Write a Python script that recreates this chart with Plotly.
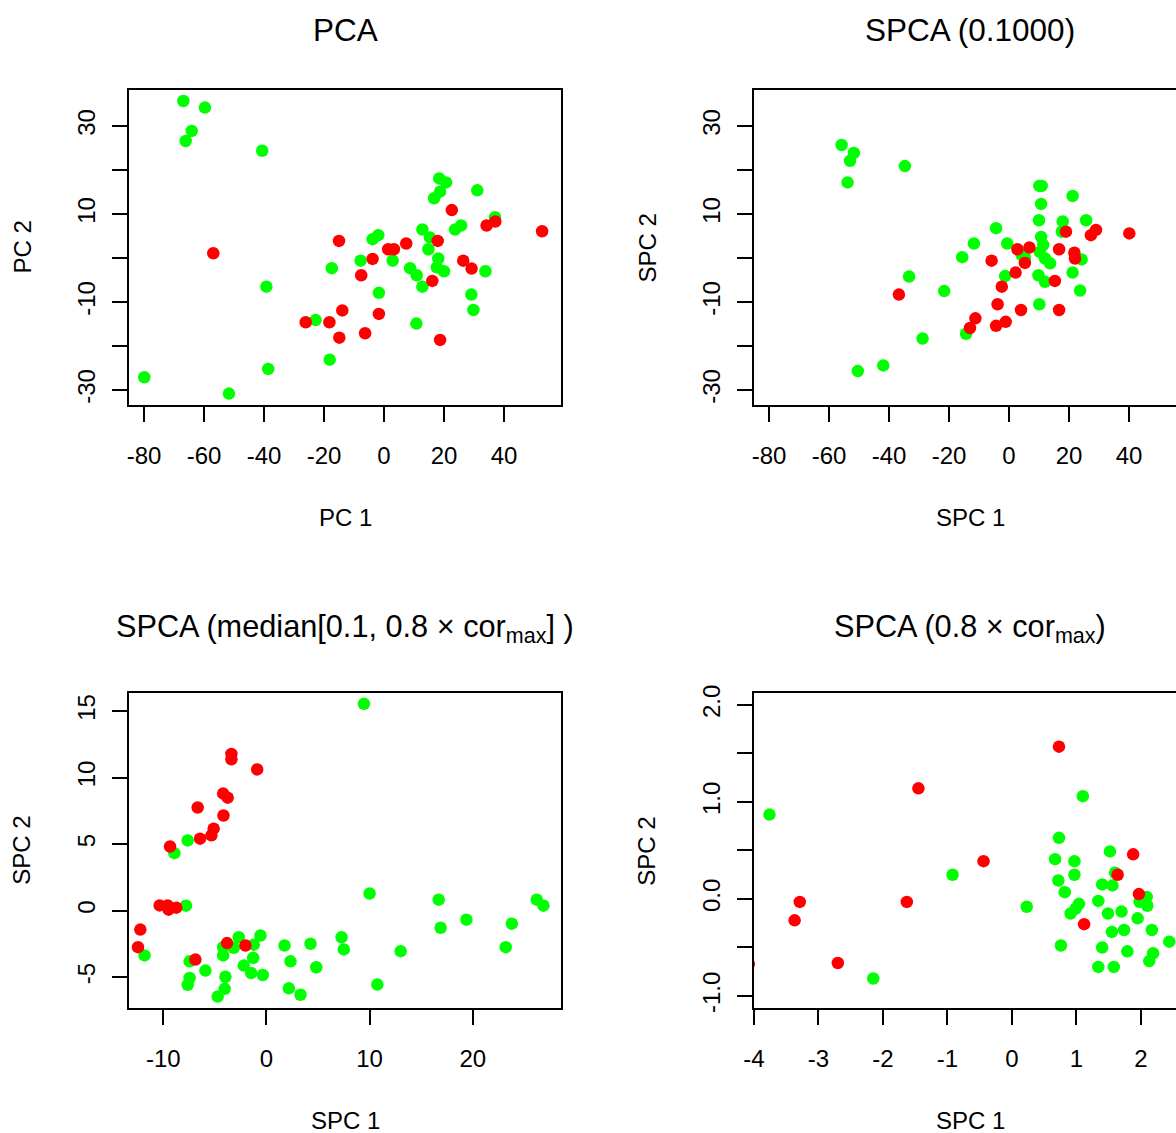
import plotly.graph_objects as go

# ---------------- data ----------------
# Panel 1: PCA
pca_green_x = [-66.9, -59.7, -64.1, -66.1, -40.6, -17.4, -39.2, -22.8, -18.1, -38.6, -79.9, -51.7,
               18.4, 20.7, 18.7, 16.7, 31.1, 37.0, 23.7, 25.7, 12.8, 15.3, 14.8, -1.9, -3.8, -7.8,
               2.9, 8.7, 10.9, 18.1, 17.6, 20.0, 33.8, 12.8, -1.7, 29.1, 29.8, 10.8]
pca_green_y = [35.7, 34.2, 28.9, 26.6, 24.4, -2.3, -6.5, -14.1, -23.1, -25.2, -27.1, -30.8,
               18.1, 17.2, 15.1, 13.6, 15.4, 9.3, 6.5, 7.4, 6.5, 4.7, 2.0, 5.2, 4.3, -0.6,
               -0.6, -2.3, -3.9, -0.1, -2.1, -3.0, -3.0, -6.5, -7.9, -8.3, -11.8, -14.9]
pca_red_x = [-56.9, -15.0, -13.9, -26.1, -18.2, -14.9, 22.6, 34.2, 37.1, 52.7, 17.9, 1.4, 3.3,
             7.4, -3.8, -7.6, 26.4, 29.2, 16.1, -1.7, -6.3, 18.7]
pca_red_y = [1.1, 3.9, -11.9, -14.6, -14.6, -18.1, 10.9, 7.4, 8.3, 6.1, 3.9, 2.0, 2.0,
             3.3, -0.2, -3.9, -0.6, -2.4, -5.2, -12.7, -17.1, -18.6]

# Panel 2: SPCA (0.1000)
sp1_green_x = [-55.8, -51.7, -53.0, -34.7, -53.8, -11.7, -15.6, -33.3, -21.6, -14.3, -28.8, -41.9,
               -50.4, 10.1, 10.9, 21.2, 10.7, 10.0, 17.9, 25.7, -4.3, 17.6, -0.6, 10.7, 11.4,
               24.2, 4.2, 5.3, 10.3, 12.0, 13.7, -1.3, 9.8, 12.0, 21.2, 23.7, 10.1]
sp1_green_y = [25.7, 23.9, 22.1, 20.9, 17.2, 3.3, 0.2, -4.2, -7.5, -17.2, -18.3, -24.4,
               -25.7, 16.4, 16.4, 14.1, 12.3, 8.6, 8.3, 8.6, 6.8, 6.0, 3.3, 4.8, 3.0,
               -0.3, 0.7, 0.2, 1.4, -0.1, -1.2, -4.1, -3.9, -5.4, -3.3, -7.4, -10.5]
sp1_red_x = [-36.7, -11.2, -13.0, 19.0, 29.0, 27.3, 40.1, 2.8, 6.8, 16.7, 21.8, 22.0, -5.8,
             5.3, 2.2, 15.3, -2.4, -3.8, 4.0, 16.7, -1.1, -4.3]
sp1_red_y = [-8.3, -13.7, -15.9, 6.0, 6.4, 5.2, 5.6, 2.0, 2.4, 2.0, 1.2, -0.1, -0.6,
             -1.1, -3.3, -5.2, -6.5, -10.5, -11.8, -11.8, -14.5, -15.4]

# Panel 3: SPCA (median[...])
sp2_green_x = [-7.64, -8.93, -7.80, -11.82, -7.45, -5.92, -7.45, -7.64, -4.73, -4.05, -3.98, -4.20,
               -4.20, -2.69, -3.17, -1.23, -0.58, -1.29, -2.20, -1.49, -0.36, 9.45, 10.0, 16.70,
               26.21, 26.86, 19.39, 16.89, 23.79, 23.20, 1.75, 4.27, 7.28, 7.50, 13.01, 2.33,
               4.83, 10.75, 2.17, 3.30]
sp2_green_y = [5.28, 4.32, 0.38, -3.36, -3.80, -4.50, -5.05, -5.57, -6.45, -5.87, -4.96, -3.36,
               -2.74, -1.99, -2.78, -2.55, -1.86, -3.54, -4.12, -4.68, -4.83, 15.54, 1.29, 0.83,
               0.83, 0.38, -0.67, -1.28, -0.97, -2.74, -2.61, -2.48, -1.99, -2.91, -3.04, -3.80,
               -4.25, -5.55, -5.83, -6.31]
sp2_red_x = [-3.40, -3.40, -0.90, -4.20, -3.76, -6.67, -4.17, -5.12, -5.34, -6.44, -9.35, -10.36,
             -9.58, -9.49, -8.74, -12.23, -12.46, -6.89, -3.82, -2.04]
sp2_red_y = [11.77, 11.37, 10.61, 8.80, 8.49, 7.75, 7.15, 6.16, 5.66, 5.41, 4.82, 0.40,
             0.40, 0.08, 0.23, -1.42, -2.74, -3.67, -2.43, -2.61]

# Panel 4: SPCA (0.8 x cor_max)
sp3_green_x = [-3.76, -0.92, -2.15, 1.10, 0.73, 1.52, 0.67, 0.97, 0.97, 0.72, 1.60, 1.40, 1.56,
               0.82, 2.09, 1.98, 2.10, 0.23, 1.04, 0.99, 0.91, 1.34, 1.49, 1.70, 1.95, 1.55,
               1.74, 2.17, 2.44, 0.76, 1.40, 1.79, 2.19, 2.13, 1.34, 1.58]
sp3_green_y = [0.87, 0.25, -0.82, 1.06, 0.63, 0.49, 0.41, 0.39, 0.25, 0.19, 0.27, 0.15, 0.14,
               0.07, 0.02, -0.03, -0.07, -0.08, -0.05, -0.10, -0.15, -0.02, -0.15, -0.13, -0.20, -0.34,
               -0.32, -0.32, -0.44, -0.48, -0.50, -0.54, -0.56, -0.64, -0.70, -0.70]
sp3_red_x = [-1.45, -0.44, -3.29, -3.37, -1.63, -2.70, -4.08, 0.73, 1.88, 1.64, 1.97, 1.12]
sp3_red_y = [1.14, 0.39, -0.03, -0.22, -0.03, -0.66, -0.67, 1.57, 0.46, 0.25, 0.05, -0.26]

titles = ["PCA", "SPCA (0.1000)",
          "SPCA (median[0.1, 0.8 \u00d7 cor<sub>max</sub>] )",
          "SPCA (0.8 \u00d7 cor<sub>max</sub>)"]
xlabels = ["PC 1", "SPC 1", "SPC 1", "SPC 1"]
ylabels = ["PC 2", "SPC 2", "SPC 2", "SPC 2"]

top_xticks = [-80, -60, -40, -20, 0, 20, 40]
top_yticks = [-30, -10, 10, 30]            # labelled ticks
top_yminor = [-20, 0, 20]                  # unlabelled ticks
bl_xticks = [-10, 0, 10, 20]
bl_yticks = [-5, 0, 5, 10, 15]
br_xticks = [-4, -3, -2, -1, 0, 1, 2]
br_yticks = [-1.0, 0.0, 1.0, 2.0]
br_yminor = [-0.5, 0.5, 1.5]

# ---------------- layout geometry ----------------
W, H = 1250, 1133
FONT = "Liberation Sans, Arial, sans-serif"
GREEN = "#00FF00"
RED = "#FF0000"


def px(x):
    return x / W


def py(y):
    return 1 - y / H


col_x = [(129, 561), (754, 1186)]
row_y = [(90, 405), (693.3, 1008.3)]

fig = go.Figure()

panels = [
    (pca_green_x, pca_green_y, pca_red_x, pca_red_y),
    (sp1_green_x, sp1_green_y, sp1_red_x, sp1_red_y),
    (sp2_green_x, sp2_green_y, sp2_red_x, sp2_red_y),
    (sp3_green_x, sp3_green_y, sp3_red_x, sp3_red_y),
]

for i, (gx, gy, rx, ry) in enumerate(panels):
    n = "" if i == 0 else str(i + 1)
    for xs, ys, c in [(gx, gy, GREEN), (rx, ry, RED)]:
        fig.add_trace(go.Scatter(x=xs, y=ys, mode="markers", xaxis="x" + n, yaxis="y" + n,
                                 marker=dict(color=c, size=12.5, line=dict(width=0)),
                                 showlegend=False, hoverinfo="skip"))

axis_common = dict(showgrid=False, zeroline=False, showline=True, mirror=True,
                   linecolor="black", linewidth=1.5, ticks="outside", ticklen=15,
                   tickwidth=1.5, tickcolor="black", automargin=False,
                   tickfont=dict(family=FONT, size=24, color="black"))


def fmt(v):
    return ("%.1f" % v) if isinstance(v, float) else str(v)


ranges = [
    ([-85, 59], [-33.4, 38.2]),
    ([-85, 59], [-33.4, 38.2]),
    ([-13.33, 28.56], [-7.33, 16.33]),
    ([-4.0, 2.70], [-1.127, 2.12]),
]
xt = [top_xticks, top_xticks, bl_xticks, br_xticks]
yt = [top_yticks, top_yticks, bl_yticks, br_yticks]
ym = [top_yminor, top_yminor, None, br_yminor]

layout = dict(width=W, height=H, margin=dict(l=0, r=0, t=0, b=0),
              paper_bgcolor="white", plot_bgcolor="white", showlegend=False)
annotations = []
for i in range(4):
    r, c = divmod(i, 2)
    n = "" if i == 0 else str(i + 1)
    x0, x1 = col_x[c]
    y0, y1 = row_y[r]
    layout["xaxis" + n] = dict(axis_common, domain=[px(x0), px(x1)], range=ranges[i][0],
                               anchor="y" + n, tickmode="array", tickvals=xt[i],
                               ticktext=[fmt(v) for v in xt[i]], ticklabelstandoff=13)
    yax = dict(axis_common, domain=[py(y1), py(y0)], range=ranges[i][1],
               anchor="x" + n, tickmode="array", tickvals=yt[i],
               ticktext=[fmt(v) for v in yt[i]], tickangle=-90, ticklabelstandoff=8)
    if ym[i] is not None:
        yax["minor"] = dict(tickmode="array", tickvals=ym[i], ticks="outside", ticklen=15,
                            tickwidth=1.5, tickcolor="black", showgrid=False)
    layout["yaxis" + n] = yax
    cx = (x0 + x1) / 2
    cy = (y0 + y1) / 2
    annotations.append(dict(text=titles[i], x=px(cx), y=py(y0 - 60 if r == 0 else y0 - 65),
                            xref="paper", yref="paper", showarrow=False,
                            xanchor="center", yanchor="middle",
                            font=dict(family=FONT, size=31.5 if r == 0 else 30.7, color="black")))
    annotations.append(dict(text=xlabels[i], x=px(cx), y=py(y1 + 112),
                            xref="paper", yref="paper", showarrow=False,
                            xanchor="center", yanchor="middle",
                            font=dict(family=FONT, size=24, color="black")))
    annotations.append(dict(text=ylabels[i], x=px(x0 - 107), y=py(cy),
                            xref="paper", yref="paper", showarrow=False, textangle=-90,
                            xanchor="center", yanchor="middle",
                            font=dict(family=FONT, size=24, color="black")))

layout["annotations"] = annotations
fig.update_layout(**layout)

fig.write_html("out.html")
